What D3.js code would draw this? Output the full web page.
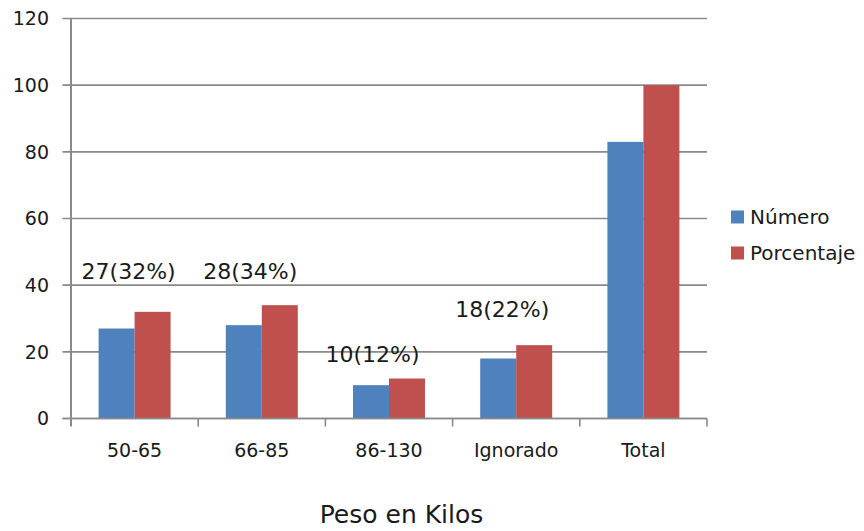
<!DOCTYPE html>
<html>
<head>
<meta charset="utf-8">
<script src="https://cdn.jsdelivr.net/npm/d3@7"></script>
<style>
  html, body { margin: 0; padding: 0; background: #fff; }
  svg { display: block; }
</style>
</head>
<body>
<svg id="chart" width="864" height="531"></svg>
<script>
// Weight groups and their counts / shares
const categories = ["50-65", "66-85", "86-130", "Ignorado", "Total"];
const numero = [27, 28, 10, 18, 83];
const porcentaje = [32, 34, 12, 22, 100];
const seriesNames = ["Número", "Porcentaje"];
const yTicks = [0, 20, 40, 60, 80, 100, 120];
const axisTitle = "Peso en Kilos";

const colors = ["#4f81bd", "#c0504d"];
const gridColor = "#8a8a8a";
const font = "'DejaVu Sans', Verdana, sans-serif";

const svg = d3.select("#chart");
const plot = { left: 71, right: 707, top: 18.5, bottom: 418.5 };

const x = d3.scaleBand()
  .domain(categories)
  .range([plot.left, plot.right])
  .paddingInner(0.434)
  .paddingOuter(0.217);

const xSeries = d3.scaleBand()
  .domain(seriesNames)
  .range([0, x.bandwidth()]);

const y = d3.scaleLinear()
  .domain([0, 120])
  .range([plot.bottom, plot.top]);

// Horizontal gridlines with short ticks left of the axis
svg.append("g")
  .selectAll("line")
  .data(yTicks)
  .join("line")
  .attr("x1", plot.left - 8.5)
  .attr("x2", plot.right)
  .attr("y1", d => y(d))
  .attr("y2", d => y(d))
  .attr("stroke", gridColor)
  .attr("stroke-width", 1.6);

// Y tick labels
svg.append("g")
  .selectAll("text")
  .data(yTicks)
  .join("text")
  .attr("x", 49)
  .attr("y", d => y(d))
  .attr("dy", "0.36em")
  .attr("text-anchor", "end")
  .attr("font-family", font)
  .attr("font-size", 19)
  .attr("fill", "#1a1a1a")
  .text(d => d);

// Bars
const rows = categories.map((c, i) => ({ cat: c, values: [numero[i], porcentaje[i]] }));
const groups = svg.append("g")
  .selectAll("g")
  .data(rows)
  .join("g")
  .attr("transform", d => `translate(${x(d.cat)},0)`);

groups.selectAll("rect")
  .data(d => d.values.map((v, k) => ({ series: seriesNames[k], value: v, k })))
  .join("rect")
  .attr("x", d => xSeries(d.series))
  .attr("width", xSeries.bandwidth())
  .attr("y", d => y(d.value))
  .attr("height", d => y(0) - y(d.value))
  .attr("fill", d => colors[d.k]);

// Y axis line
svg.append("line")
  .attr("x1", plot.left).attr("x2", plot.left)
  .attr("y1", plot.top).attr("y2", plot.bottom + 8)
  .attr("stroke", gridColor)
  .attr("stroke-width", 2);

// X axis baseline and category boundary ticks
svg.append("line")
  .attr("x1", plot.left - 8.5).attr("x2", plot.right)
  .attr("y1", plot.bottom).attr("y2", plot.bottom)
  .attr("stroke", gridColor)
  .attr("stroke-width", 1.6);

const step = x.step();
const boundaries = d3.range(categories.length + 1).map(i => plot.left + i * step);
svg.append("g")
  .selectAll("line")
  .data(boundaries.slice(1))
  .join("line")
  .attr("x1", d => d).attr("x2", d => d)
  .attr("y1", plot.bottom).attr("y2", plot.bottom + 8)
  .attr("stroke", gridColor)
  .attr("stroke-width", 1.6);

// Category labels
svg.append("g")
  .selectAll("text")
  .data(categories)
  .join("text")
  .attr("x", d => x(d) + x.bandwidth() / 2)
  .attr("y", 456.5)
  .attr("text-anchor", "middle")
  .attr("font-family", font)
  .attr("font-size", 19)
  .attr("fill", "#1a1a1a")
  .text(d => d);

// Value annotations "n(p%)" placed above each group's bars
const labelNudge = [
  { dx: -6, dy: -32.5 },
  { dx: -11.5, dy: -26 },
  { dx: -16.5, dy: -17 },
  { dx: -14, dy: -28.5 }
];
svg.append("g")
  .selectAll("text")
  .data(labelNudge.map((n, i) => ({ i, n })))
  .join("text")
  .attr("x", d => x(categories[d.i]) + x.bandwidth() / 2 + d.n.dx)
  .attr("y", d => y(porcentaje[d.i]) + d.n.dy)
  .attr("text-anchor", "middle")
  .attr("font-family", font)
  .attr("font-size", 22)
  .attr("fill", "#1a1a1a")
  .text(d => `${numero[d.i]}(${porcentaje[d.i]}%)`);

// Legend
const legend = svg.append("g")
  .selectAll("g")
  .data(seriesNames)
  .join("g")
  .attr("transform", (d, i) => `translate(731,${210.5 + i * 36})`);

legend.append("rect")
  .attr("width", 13)
  .attr("height", 13)
  .attr("fill", (d, i) => colors[i]);

legend.append("text")
  .attr("x", 19)
  .attr("y", 13)
  .attr("font-family", font)
  .attr("font-size", 20)
  .attr("fill", "#1a1a1a")
  .text(d => d);

// Axis title
svg.append("text")
  .attr("x", 401.5)
  .attr("y", 523)
  .attr("text-anchor", "middle")
  .attr("font-family", font)
  .attr("font-size", 25)
  .attr("fill", "#1a1a1a")
  .text(axisTitle);
</script>
</body>
</html>
